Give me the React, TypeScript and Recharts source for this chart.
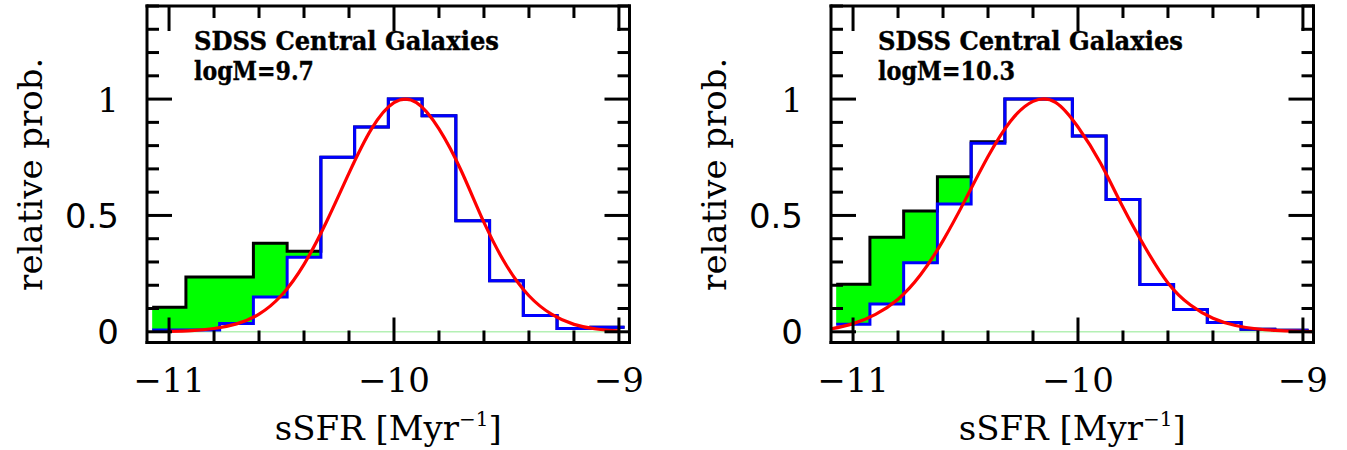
import { ComposedChart, Line, Area, XAxis, YAxis, ReferenceLine } from 'recharts'

// histogram bin edges (log sSFR), 14 bins of 0.15 dex
const binEdges = [
  -11.075, -10.925, -10.775, -10.625, -10.475, -10.325, -10.175, -10.025,
  -9.875, -9.725, -9.575, -9.425, -9.275, -9.125, -8.975,
]

// logM = 9.7 panel
const leftBlue = [0.008, 0.008, 0.036, 0.15, 0.32, 0.75, 0.88, 1.0, 0.928, 0.477, 0.219, 0.07, 0.014, 0.019]
const leftBlack = [0.105, 0.236, 0.236, 0.38, 0.346, 0.75, 0.88, 1.0, 0.928, 0.477, 0.219, 0.07, 0.014, 0.019]
const leftCurveX = [
  -11.0, -10.9, -10.8, -10.7, -10.6, -10.5, -10.4, -10.3, -10.2, -10.1, -10.0,
  -9.9, -9.8, -9.7, -9.6, -9.5, -9.4, -9.3, -9.2, -9.1, -9.0,
]
const leftCurveY = [
  0.002, 0.005, 0.014, 0.034, 0.076, 0.157, 0.29, 0.473, 0.682, 0.872, 0.985,
  0.985, 0.872, 0.69, 0.47, 0.285, 0.155, 0.076, 0.032, 0.012, 0.004,
]

// logM = 10.3 panel
const rightBlue = [0.032, 0.119, 0.297, 0.549, 0.81, 1.0, 1.0, 0.841, 0.569, 0.203, 0.096, 0.04, 0.011, 0.007]
const rightBlack = [0.204, 0.406, 0.519, 0.666, 0.817, 1.0, 1.0, 0.841, 0.569, 0.203, 0.096, 0.04, 0.011, 0.007]
const rightCurveX = [
  -11.1, -11.0, -10.9, -10.8, -10.7, -10.6, -10.5, -10.4, -10.3, -10.2, -10.1, -10.0,
  -9.9, -9.8, -9.7, -9.6, -9.5, -9.4, -9.3, -9.2, -9.1, -9.0, -8.95,
]
const rightCurveY = [
  0.012, 0.035, 0.075, 0.14, 0.245, 0.392, 0.569, 0.753, 0.905, 0.99, 0.986, 0.88,
  0.725, 0.535, 0.36, 0.21, 0.115, 0.058, 0.027, 0.012, 0.005, 0.002, 0.001,
]

const xTicks = [-11, -10.8, -10.6, -10.4, -10.2, -10, -9.8, -9.6, -9.4, -9.2, -9]
const xMajor = [-11, -10, -9]
const yTicks = [0, 0.1, 0.2, 0.3, 0.4, 0.5, 0.6, 0.7, 0.8, 0.9, 1, 1.1, 1.2, 1.3, 1.4]
const yMajor = [0, 0.5, 1]

const X_DOMAIN: [number, number] = [-11.098, -8.953]
const Y_DOMAIN: [number, number] = [-0.046, 1.4]

const SERIF = '"DejaVu Serif", serif'
const SANS = '"DejaVu Sans", sans-serif'
const MAJOR = 25
const MINOR = 12

const isMajor = (v: number, list: number[]) => list.some((m) => Math.abs(m - v) < 1e-6)
const fmtX = (v: number) => (v < 0 ? `\u2212${Math.abs(v)}` : `${v}`)

function buildRows(blue: number[], black: number[]) {
  const n = blue.length
  return binEdges.map((x, i) => {
    const b = Math.min(i, n - 1)
    const here = i < n && black[i] > blue[i] + 1e-6
    const prev = i > 0 && black[i - 1] > blue[i - 1] + 1e-6
    let green: number[] | null = null
    if (here) green = [blue[i], black[i]]
    else if (prev) green = [blue[i - 1], black[i - 1]]
    return { x, blue: blue[b], black: black[b], green }
  })
}

const BottomTick = (props: any) => {
  const { x, y, payload } = props
  const major = isMajor(payload.value, xMajor)
  return (
    <g>
      <line x1={x} x2={x} y1={y} y2={y - (major ? MAJOR : MINOR)} stroke="#000" strokeWidth={3} />
      {major && (
        <text x={x} y={y + 49} textAnchor="middle" fontFamily={SERIF} fontSize={34} fill="#000">
          {fmtX(payload.value)}
        </text>
      )}
    </g>
  )
}

const TopTick = (props: any) => {
  const { x, y, payload } = props
  const major = isMajor(payload.value, xMajor)
  return <line x1={x} x2={x} y1={y} y2={y + (major ? MAJOR : MINOR)} stroke="#000" strokeWidth={3} />
}

const LeftTick = (props: any) => {
  const { x, y, payload } = props
  const v = payload.value
  const major = isMajor(v, yMajor)
  return (
    <g>
      <line x1={x} x2={x + (major ? MAJOR : MINOR)} y1={y} y2={y} stroke="#000" strokeWidth={3} />
      {major && (
        <text x={x - 28} y={y + 12.5} textAnchor="end" fontFamily={v === 1 ? SERIF : SANS} fontSize={34} fill="#000">
          {String(v)}
        </text>
      )}
    </g>
  )
}

const RightTick = (props: any) => {
  const { x, y, payload } = props
  const major = isMajor(payload.value, yMajor)
  return <line x1={x} x2={x - (major ? MAJOR : MINOR)} y1={y} y2={y} stroke="#000" strokeWidth={3} />
}

const frame = { stroke: '#000', strokeWidth: 3, strokeLinecap: 'square' as const }

interface PanelProps {
  left: number
  blue: number[]
  black: number[]
  curveX: number[]
  curveY: number[]
  mass: string
  massLen: number
}

function Panel({ left, blue, black, curveX, curveY, mass, massLen }: PanelProps) {
  const rows = buildRows(blue, black)
  const curve = curveX.map((x, i) => ({ x, y: curveY[i] }))

  return (
    <div style={{ position: 'absolute', left, top: 0 }}>
      <ComposedChart width={660} height={450} data={rows} margin={{ top: 0, right: 0, bottom: 0, left: 0 }}>
        <XAxis
          xAxisId="b"
          dataKey="x"
          type="number"
          domain={X_DOMAIN}
          allowDataOverflow
          ticks={xTicks}
          interval={0}
          height={107.5}
          tickSize={0}
          tickMargin={0}
          tickLine={false}
          axisLine={frame}
          tick={BottomTick}
          label={{
            content: ({ viewBox }: any) => (
              <text
                x={viewBox.x + viewBox.width / 2}
                y={viewBox.y + 97}
                textAnchor="middle"
                fontFamily={SERIF}
                fontSize={34}
                fill="#000"
              >
                sSFR [Myr
                <tspan dy={-14} fontSize={20}>
                  {'\u22121'}
                </tspan>
                <tspan dy={14}>]</tspan>
              </text>
            ),
          }}
        />
        <XAxis
          xAxisId="t"
          orientation="top"
          dataKey="x"
          type="number"
          domain={X_DOMAIN}
          allowDataOverflow
          ticks={xTicks}
          interval={0}
          height={6}
          tickSize={0}
          tickMargin={0}
          tickLine={false}
          axisLine={frame}
          tick={TopTick}
          label={{
            content: ({ viewBox }: any) => (
              <g fontFamily={SERIF} fontWeight="bold" fontSize={25.5} fill="#000" stroke="#000" strokeWidth={0.4}>
                <text x={viewBox.x + 47} y={50} textLength={305} lengthAdjust="spacingAndGlyphs">
                  SDSS Central Galaxies
                </text>
                <text x={viewBox.x + 47} y={80} textLength={massLen} lengthAdjust="spacingAndGlyphs">
                  {mass}
                </text>
              </g>
            ),
          }}
        />
        <YAxis
          yAxisId="l"
          type="number"
          domain={Y_DOMAIN}
          allowDataOverflow
          ticks={yTicks}
          interval={0}
          width={147}
          tickSize={0}
          tickMargin={0}
          tickLine={false}
          axisLine={frame}
          tick={LeftTick}
          label={{
            content: ({ viewBox }: any) => {
              const cy = viewBox.y + viewBox.height / 2
              return (
                <text
                  x={42}
                  y={cy}
                  transform={`rotate(-90, 42, ${cy})`}
                  textAnchor="middle"
                  fontFamily={SERIF}
                  fontSize={34}
                  fill="#000"
                >
                  relative prob.
                </text>
              )
            },
          }}
        />
        <YAxis
          yAxisId="r"
          orientation="right"
          type="number"
          domain={Y_DOMAIN}
          allowDataOverflow
          ticks={yTicks}
          interval={0}
          width={30.5}
          tickSize={0}
          tickMargin={0}
          tickLine={false}
          axisLine={frame}
          tick={RightTick}
        />

        <ReferenceLine
          xAxisId="b"
          yAxisId="l"
          segment={[
            { x: binEdges[0], y: 0 },
            { x: binEdges[binEdges.length - 1], y: 0 },
          ]}
          stroke="#b4f0b4"
          strokeWidth={1.5}
        />
        <Area
          xAxisId="b"
          yAxisId="l"
          dataKey="green"
          type="stepAfter"
          fill="#00ff00"
          fillOpacity={1}
          stroke="none"
          isAnimationActive={false}
        />
        <Line
          xAxisId="b"
          yAxisId="l"
          dataKey="black"
          type="stepAfter"
          stroke="#000"
          strokeWidth={3}
          dot={false}
          isAnimationActive={false}
        />
        <Line
          xAxisId="b"
          yAxisId="l"
          dataKey="blue"
          type="stepAfter"
          stroke="#0000ff"
          strokeWidth={3}
          dot={false}
          isAnimationActive={false}
        />
        <Line
          xAxisId="b"
          yAxisId="l"
          data={curve}
          dataKey="y"
          type="natural"
          stroke="#ff0000"
          strokeWidth={3.2}
          dot={false}
          isAnimationActive={false}
        />
      </ComposedChart>
    </div>
  )
}

export default function App() {
  return (
    <div style={{ position: 'absolute', left: 0, top: 0, width: 1347, height: 450, background: '#fff' }}>
      <Panel
        left={0}
        blue={leftBlue}
        black={leftBlack}
        curveX={leftCurveX}
        curveY={leftCurveY}
        mass="logM=9.7"
        massLen={120}
      />
      <Panel
        left={683.5}
        blue={rightBlue}
        black={rightBlack}
        curveX={rightCurveX}
        curveY={rightCurveY}
        mass="logM=10.3"
        massLen={137}
      />
    </div>
  )
}
